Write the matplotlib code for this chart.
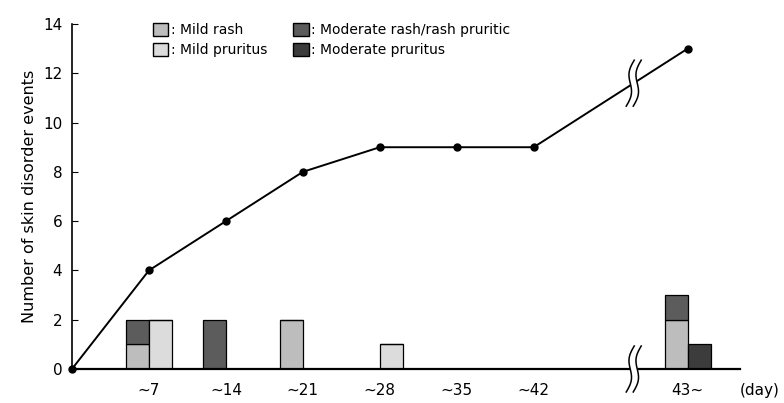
import numpy as np
import matplotlib.pyplot as plt
import matplotlib.transforms as mtransforms
from matplotlib.patches import Patch

# Data
periods = ['~7', '~14', '~21', '~28', '~35', '~42', '43~']
pos = np.array([1, 2, 3, 4, 5, 6, 8])
mild_rash = [1, 0, 2, 0, 0, 0, 2]
moderate_rash = [1, 2, 0, 0, 0, 0, 1]
mild_pruritus = [2, 0, 0, 1, 0, 0, 0]
moderate_pruritus = [0, 0, 0, 0, 0, 0, 1]
cum_x = [0, 1, 2, 3, 4, 5, 6, 8]
cum_events = [0, 4, 6, 8, 9, 9, 9, 13]

c_mild_rash = '#bdbdbd'
c_mild_pru = '#dcdcdc'
c_mod_rash = '#5c5c5c'
c_mod_pru = '#3c3c3c'

fig = plt.figure(figsize=(7.84, 4.03), dpi=100)
ax = fig.add_axes([0.0918, 0.0844, 0.852, 0.856])

w = 0.3
ax.bar(pos - w/2, mild_rash, w, color=c_mild_rash, edgecolor='black', lw=0.9, zorder=2)
ax.bar(pos - w/2, moderate_rash, w, bottom=mild_rash, color=c_mod_rash,
       edgecolor='black', lw=0.9, zorder=2)
ax.bar(pos + w/2, mild_pruritus, w, color=c_mild_pru, edgecolor='black', lw=0.9, zorder=2)
ax.bar(pos + w/2, moderate_pruritus, w, bottom=mild_pruritus, color=c_mod_pru,
       edgecolor='black', lw=0.9, zorder=2)

ax.plot(cum_x, cum_events, color='black', lw=1.4, marker='o', ms=5, zorder=3,
        clip_on=False)

ax.set_xlim(0, 8.68)
ax.set_ylim(0, 14)
ax.set_yticks(range(0, 15, 2))
ax.set_xticks(pos)
ax.set_xticklabels(periods)
ax.tick_params(axis='y', direction='in', length=4, labelsize=11, pad=7)
ax.tick_params(axis='x', length=0, labelsize=11, pad=10)
for s in ['top', 'right']:
    ax.spines[s].set_visible(False)
ax.spines['left'].set_linewidth(1.2)
ax.spines['bottom'].set_linewidth(1.6)
ax.set_ylabel('Number of skin disorder events', fontsize=11.5, labelpad=4)
ax.text(1.0, -0.063, '(day)', transform=ax.transAxes, fontsize=11, ha='left', va='center')

# axis break symbols
def draw_break(xc, yc):
    tr = fig.dpi_scale_trans + mtransforms.ScaledTranslation(xc, yc, ax.transData)
    yy = np.linspace(-0.23, 0.23, 60)
    xx = 0.04 * yy / 0.23 - 0.03 * np.sin(np.pi * yy / 0.23)
    gap = 0.07
    ax.fill_betweenx(yy, xx - gap/2, xx + gap/2, color='white', transform=tr,
                     zorder=6, clip_on=False, lw=0)
    ax.plot(xx - gap/2, yy, color='black', lw=1.1, transform=tr, zorder=7, clip_on=False)
    ax.plot(xx + gap/2, yy, color='black', lw=1.1, transform=tr, zorder=7, clip_on=False)

draw_break(7.3, 0)
draw_break(7.3, 9 + 4 * 1.3 / 2)

handles = [Patch(facecolor=c_mild_rash, edgecolor='black'),
           Patch(facecolor=c_mild_pru, edgecolor='black'),
           Patch(facecolor=c_mod_rash, edgecolor='black'),
           Patch(facecolor=c_mod_pru, edgecolor='black')]
labels = [': Mild rash', ': Mild pruritus', ': Moderate rash/rash pruritic',
          ': Moderate pruritus']
ax.legend(handles, labels, ncol=2, loc='upper left', bbox_to_anchor=(0.102, 1.04),
          frameon=False, fontsize=10, handlelength=1.1, handleheight=1.1,
          handletextpad=0.2, columnspacing=1.9, labelspacing=0.4)

fig.savefig('out.png', dpi=100)
